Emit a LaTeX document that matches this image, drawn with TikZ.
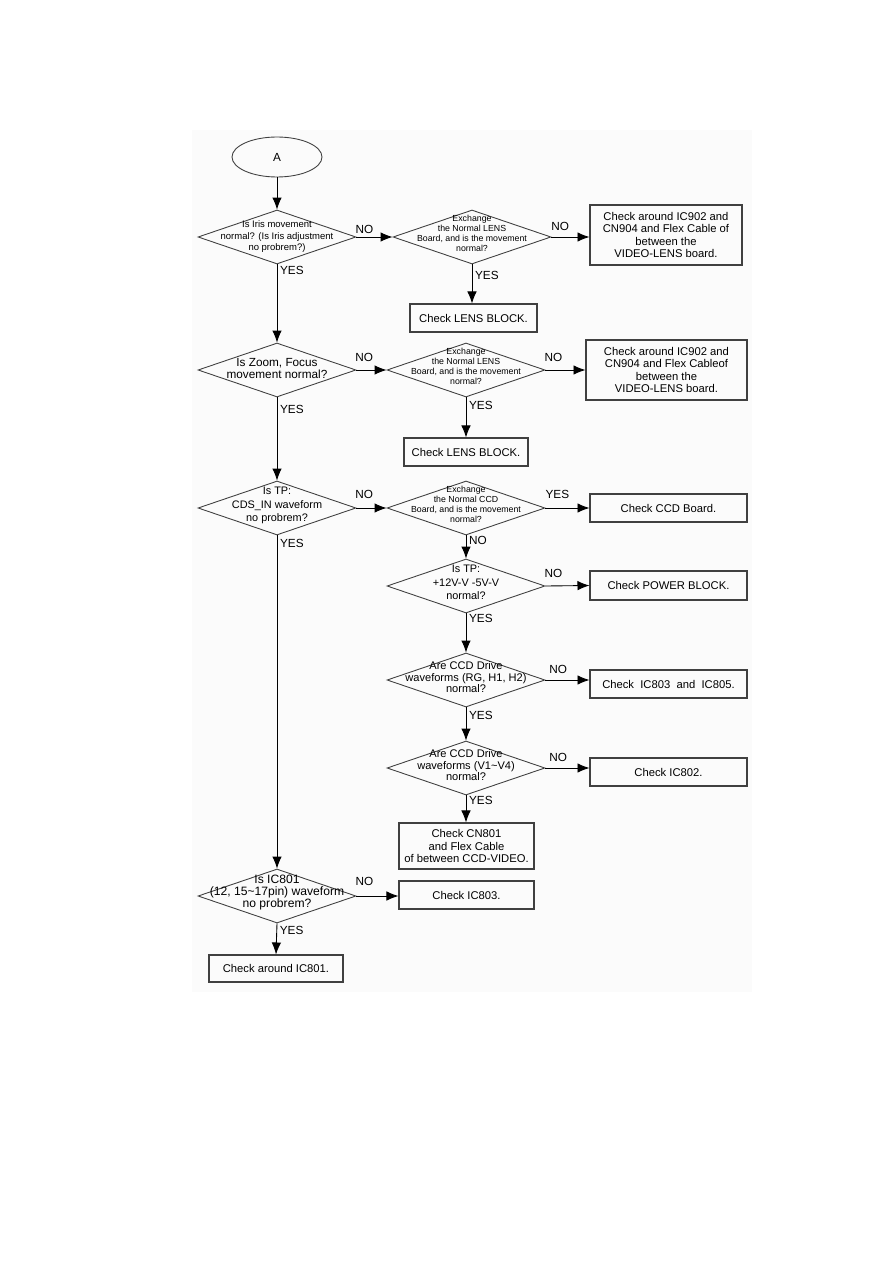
\documentclass[tikz,border=0pt]{standalone}
\usepackage{fontspec}
\setmainfont{Liberation Sans}
\usetikzlibrary{arrows,arrows.meta}
\usetikzlibrary{calc,shapes, shapes.geometric}
\tikzset{>=latex}
\tikzstyle{decision} = [%
                    diamond, draw=black!75, line width=0.5pt, inner sep=0pt,
                    minimum width=3.16cm, minimum height=1.08cm,
                    font=\fontsize{6.3}{6.2}\selectfont
                    ]
\tikzstyle{exchange} = [decision, font=\fontsize{5}{5.7}\selectfont]
\tikzstyle{check}  = [rectangle, draw=black!75, line width=0.6pt, align=center,
                      inner sep=1pt, font=\fontsize{6.4}{7.2}\selectfont]
\tikzstyle{flow}   = [line width=0.5pt, -{Latex[length=0.24cm,width=0.19cm]}]
\tikzstyle{answer} = [font=\fontsize{6.7}{7}\selectfont, inner sep=1.5pt]

% question text may run over the diamond edges, as in the original
% optional arg: how far the text is lowered
\newcommand{\qtext}[2][0pt]{\makebox[0pt]{\raisebox{-#1}{\smash{\begin{tabular}{@{}c@{}}#2\end{tabular}}}}}

\begin{document}
\begin{tikzpicture}[x=0.02cm, y=-0.02cm]
    % sheet size in pixels of the scan (893 x 1263)
    \useasboundingbox (0,0) rectangle (893,1263);
    % faint grey sheet behind the chart
    \fill[black!1.5] (192,130) rectangle (752,992);

    % start terminal
    \node[ellipse, draw=black!75, line width=0.5pt, minimum width=1.8cm,
          minimum height=0.8cm, font=\fontsize{6.7}{7}\selectfont] (start) at (277,157) {A};

    % lens checks
    \node[decision, font=\fontsize{5.4}{6.5}\selectfont] (iris) at (277,237)
        {\qtext[2.2pt]{Is Iris movement\\normal? (Is Iris adjustment\\no probrem?)}};
    \node[exchange] (lensA) at (472,237) {\qtext{Exchange\\the Normal LENS\\Board, and is the movement\\normal?}};
    \node[check, minimum width=3.04cm, minimum height=1.2cm] (icA) at (666,235)
        {Check around IC902 and\\CN904 and Flex Cable of\\between the\\VIDEO-LENS board.};
    \node[check, minimum width=2.54cm, minimum height=0.56cm] (blockA) at (473.5,318) {Check LENS BLOCK.};

    \node[decision, font=\fontsize{6.7}{7}\selectfont] (zoom) at (277,370)
        {\qtext[3.4pt]{Is Zoom, Focus\\movement normal?}};
    \node[exchange] (lensB) at (466,370) {\qtext{Exchange\\the Normal LENS\\Board, and is the movement\\normal?}};
    \node[check, minimum width=3.22cm, minimum height=1.2cm] (icB) at (666.5,370)
        {Check around IC902 and\\CN904 and Flex Cableof\\between the\\VIDEO-LENS board.};
    \node[check, minimum width=2.48cm, minimum height=0.56cm] (blockB) at (466,452) {Check LENS BLOCK.};

    % CCD checks
    \node[decision, font=\fontsize{6.2}{7.8}\selectfont] (cds) at (277,508) {\qtext{Is TP:\\CDS\_IN waveform\\no probrem?}};
    \node[exchange] (ccd)   at (466,508) {\qtext{Exchange\\the Normal CCD\\Board, and is the movement\\normal?}};
    \node[check, minimum width=3.14cm, minimum height=0.56cm] (ccdok) at (668.5,508) {Check CCD Board.};
    \node[decision, font=\fontsize{6.2}{7.5}\selectfont] (power) at (466,586) {\qtext{Is TP:\\+12V-V -5V-V\\normal?}};
    \node[check, minimum width=3.14cm, minimum height=0.58cm] (pwr) at (668.5,585.5) {Check POWER BLOCK.};
    \node[decision] (drvH)  at (466,680) {\qtext[1.7pt]{Are CCD Drive\\waveforms (RG, H1, H2)\\normal?}};
    \node[check, minimum width=3.14cm, minimum height=0.56cm] (icH) at (668.5,684) {Check\ \ IC803\ \ and\ \ IC805.};
    \node[decision] (drvV)  at (466,768) {\qtext[1.7pt]{Are CCD Drive\\waveforms (V1\textasciitilde V4)\\normal?}};
    \node[check, minimum width=3.14cm, minimum height=0.56cm] (icV) at (668.5,772) {Check IC802.};
    \node[check, minimum width=2.7cm, minimum height=0.92cm] (cable) at (466.5,846)
        {Check CN801\\and Flex Cable\\of between CCD-VIDEO.};

    % IC801 check
    \node[decision, font=\fontsize{6.9}{6.5}\selectfont] (ic801) at (277,896)
        {\qtext{Is IC801\\(12, 15\textasciitilde 17pin) waveform\\no probrem?}};
    \node[check, minimum width=2.7cm, minimum height=0.56cm] (ic803) at (466.5,895) {Check IC803.};
    \node[check, minimum width=2.68cm, minimum height=0.54cm] (around) at (276,968.5) {Check around IC801.};

    % main line
    \draw[flow] (start) -- (iris);
    \draw[flow] (iris.south) -- node[answer, right, pos=0.08] {YES} (zoom.north);
    \draw[flow] (zoom.south) -- node[answer, right, pos=0.14] {YES} (cds.north);
    \draw[flow] (cds.south) -- node[answer, right, pos=0.025] {YES} (ic801.north);
    \draw[flow] (ic801.south) -- node[answer, right, pos=0.24] {YES} (around.north);

    % branches to the right
    \draw[flow] (iris.east) -- node[answer, above=0pt, pos=0.22] {NO} (lensA.west);
    \draw[flow] (lensA.east) -- node[answer, above=2pt, pos=0.23] {NO} (lensA.east -| icA.west);
    \draw[flow] (lensA.south) -- node[answer, right, pos=0.28] {YES} (lensA.south |- blockA.north);
    \draw[flow] (zoom.east) -- node[answer, above=3pt, pos=0.26] {NO} (lensB.west);
    \draw[flow] (lensB.east) -- node[answer, above=3pt, pos=0.2] {NO} (icB.west);
    \draw[flow] (lensB.south) -- node[answer, right, pos=0.2] {YES} (blockB.north);
    \draw[flow] (cds.east) -- node[answer, above=3.5pt, pos=0.26] {NO} (ccd.west);
    \draw[flow] (ccd.east) -- node[answer, above=3.5pt, pos=0.27] {YES} (ccdok.west);
    \draw[flow] (ccd.south) -- node[answer, right, pos=0.2] {NO} (power.north);
    \draw[flow] (power.east) -- node[answer, above=3pt, pos=0.18] {NO} (pwr.west);
    \draw[flow] (power.south) -- node[answer, right, pos=0.12] {YES} (drvH.north);
    \draw[flow] (drvH.east) -- node[answer, above=2pt, pos=0.29] {NO} (drvH.east -| icH.west);
    \draw[flow] (drvH.south) -- node[answer, right, pos=0.24] {YES} (drvV.north);
    \draw[flow] (drvV.east) -- node[answer, above=2pt, pos=0.29] {NO} (drvV.east -| icV.west);
    \draw[flow] (drvV.south) -- node[answer, right, pos=0.18] {YES} (drvV.south |- cable.north);
    \draw[flow] (ic801.east) -- node[answer, above=4pt, pos=0.19] {NO} (ic801.east -| ic803.west);
\end{tikzpicture}
\end{document}
